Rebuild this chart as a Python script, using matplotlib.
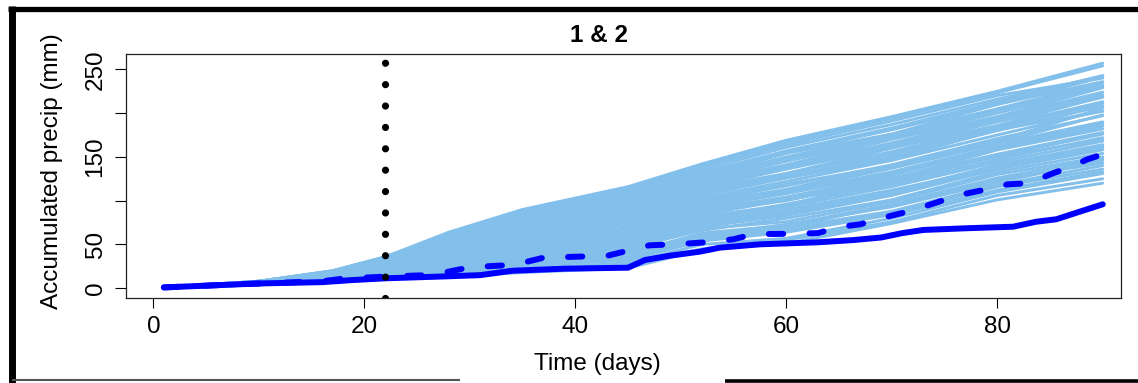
import matplotlib
matplotlib.use("Agg")
import matplotlib.pyplot as plt
from matplotlib.lines import Line2D

plt.rcParams['font.family'] = ['Liberation Sans', 'DejaVu Sans']

# ensemble members (accumulated precip, mm) read at these days
ens_days = [1, 10, 17, 22, 28, 35, 45, 52, 60, 70, 80, 90]
ens_values = [
    [0, 4, 7, 10, 13, 18, 23, 44, 51, 74, 101, 120],
    [0, 4, 7, 11, 15, 20, 26, 45, 55, 76, 106, 125],
    [0, 4, 8, 12, 16, 22, 29, 50, 57, 80, 110, 131],
    [0, 4, 8, 13, 18, 25, 32, 54, 64, 84, 112, 133],
    [0, 4, 8, 13, 19, 27, 34, 56, 66, 86, 116, 136],
    [0, 5, 9, 14, 21, 30, 36, 58, 69, 88, 118, 140],
    [0, 5, 9, 14, 21, 29, 39, 61, 70, 95, 124, 143],
    [0, 5, 9, 15, 22, 30, 42, 60, 73, 93, 121, 146],
    [0, 5, 9, 15, 23, 32, 40, 63, 72, 96, 126, 148],
    [0, 5, 10, 16, 24, 34, 44, 68, 76, 99, 130, 150],
    [0, 5, 10, 17, 25, 36, 46, 66, 80, 101, 133, 154],
    [0, 5, 10, 17, 27, 37, 47, 70, 83, 106, 136, 158],
    [0, 5, 11, 18, 26, 39, 50, 72, 85, 108, 138, 160],
    [0, 5, 11, 19, 29, 41, 55, 75, 90, 112, 138, 162],
    [0, 5, 11, 18, 28, 40, 52, 74, 87, 110, 141, 164],
    [0, 5, 12, 19, 30, 44, 56, 78, 93, 116, 144, 168],
    [0, 6, 12, 20, 32, 45, 58, 82, 95, 124, 150, 170],
    [0, 6, 12, 20, 31, 43, 57, 80, 96, 119, 147, 172],
    [0, 6, 12, 21, 33, 47, 61, 84, 101, 121, 151, 176],
    [0, 6, 13, 22, 34, 49, 63, 88, 100, 126, 153, 178],
    [0, 6, 13, 21, 35, 50, 64, 86, 104, 125, 158, 182],
    [0, 6, 13, 22, 36, 52, 67, 90, 104, 129, 160, 185],
    [1, 6, 14, 23, 37, 53, 69, 92, 108, 131, 159, 187],
    [1, 6, 14, 23, 38, 54, 70, 93, 110, 133, 162, 189],
    [1, 6, 14, 24, 39, 55, 71, 96, 112, 137, 165, 190],
    [1, 6, 14, 24, 40, 57, 74, 97, 113, 140, 166, 198],
    [1, 6, 14, 25, 40, 58, 75, 99, 117, 141, 171, 197],
    [1, 6, 15, 25, 41, 60, 77, 101, 119, 140, 168, 206],
    [1, 6, 15, 26, 42, 61, 79, 103, 122, 146, 175, 203],
    [1, 6, 15, 26, 43, 63, 80, 106, 126, 147, 181, 202],
    [1, 7, 15, 27, 44, 64, 83, 107, 126, 150, 180, 208],
    [1, 7, 16, 27, 45, 66, 84, 109, 128, 153, 183, 211],
    [1, 7, 16, 28, 46, 67, 86, 111, 131, 156, 185, 213],
    [1, 7, 16, 28, 47, 68, 88, 114, 131, 160, 186, 219],
    [1, 7, 16, 29, 48, 70, 90, 115, 136, 161, 190, 218],
    [1, 7, 17, 29, 49, 71, 92, 117, 138, 163, 193, 221],
    [1, 7, 17, 30, 50, 73, 94, 119, 140, 166, 195, 224],
    [1, 7, 17, 30, 51, 74, 96, 121, 141, 170, 196, 229],
    [1, 7, 17, 31, 52, 76, 97, 122, 145, 171, 200, 230],
    [1, 7, 18, 31, 53, 77, 99, 124, 148, 173, 203, 232],
    [1, 7, 18, 32, 54, 79, 101, 126, 150, 176, 205, 235],
    [1, 7, 18, 32, 55, 80, 104, 127, 154, 176, 210, 236],
    [1, 8, 18, 33, 56, 81, 105, 130, 155, 181, 210, 241],
    [1, 8, 19, 33, 57, 83, 107, 132, 157, 183, 213, 243],
    [1, 8, 19, 34, 59, 85, 110, 135, 161, 187, 216, 242],
    [1, 8, 20, 35, 60, 87, 112, 138, 164, 191, 220, 240],
    [1, 8, 20, 36, 61, 89, 114, 140, 167, 194, 223, 254],
    [1, 8, 20, 36, 64, 90, 116, 142, 169, 196, 225, 257],
]

# observed (solid) line
obs_days = [1, 5, 10, 16, 19, 22, 27, 31, 34, 39, 45, 46.6, 49, 51.8, 53.7,
            57.5, 63, 66.3, 69, 71, 73, 77, 81.5, 83.7, 85.6, 87.8, 90]
obs_values = [1, 3, 5.5, 7, 9.5, 11.4, 13.3, 15, 20, 22.4, 23.5, 32.3, 37.3,
              41.8, 46.4, 50.2, 52.5, 55, 58, 63, 66.6, 68.5, 70.3, 76, 78.8,
              87.4, 95.9]

# dashed line
dash_days = [1, 10, 16, 18, 22, 26, 28, 30, 33, 35, 37, 43, 45, 47, 50, 53,
             55, 57, 59, 63, 65, 67, 69, 71, 73, 75, 77, 79, 81, 83, 85, 87,
             88.5, 90]
dash_values = [1, 5.5, 8, 11, 13.3, 15, 19, 24, 26, 29, 35, 37, 43, 49, 50.6,
               53, 56, 62, 62, 63, 70, 73, 80, 86, 93, 101, 108, 113, 118.7,
               120, 130, 139, 147, 153]

cut_day = 22
x_ticks = [0, 20, 40, 60, 80]
y_ticks = [0, 50, 100, 150, 200, 250]
y_ticklabels = ['0', '50', '', '150', '', '250']

W, H = 1138, 383
fig = plt.figure(figsize=(W / 100, H / 100), dpi=100)
ax = fig.add_axes([126 / W, 85 / H, 994.7 / W, 244 / H])

for row in ens_values:
    ax.plot(ens_days, row, color='#82bfea', lw=2.1, solid_capstyle='round',
            solid_joinstyle='round')

ax.plot(obs_days, obs_values, color='#0000ff', lw=4.3,
        solid_capstyle='round', solid_joinstyle='round')
ax.plot(dash_days, dash_values, color='#0000ff', lw=4.3,
        linestyle=(0, (2.4, 4.4)), dash_capstyle='round')

ylim = (-11.1, 267.5)
ax.plot([cut_day, cut_day], [ylim[0], ylim[1]], color='black', lw=5.2,
        linestyle=(0, (0.001, 2.96)), dash_capstyle='round')

ax.set_xlim(-2.59, 91.7)
ax.set_ylim(*ylim)
ax.set_xticks(x_ticks)
ax.set_yticks(y_ticks)
ax.set_yticklabels(y_ticklabels, rotation=90, va='center')
ax.tick_params(axis='x', length=7.2, width=0.8, pad=6, labelsize=17.5)
ax.tick_params(axis='y', length=8, width=0.8, pad=6, labelsize=17.5)
for s in ax.spines.values():
    s.set_linewidth(0.9)
    s.set_color('#222222')

fig.text(599 / W, 1 - 35 / H, '1 & 2', ha='center', va='center',
         fontsize=17.5, fontweight='bold')
fig.text(52 / W, 1 - 171 / H, 'Accumulated precip (mm)', ha='center',
         va='center', rotation=90, fontsize=17.5)
fig.text(597 / W, 1 - 364 / H, 'Time (days)', ha='center', va='center',
         fontsize=17.5)

# frame around the panel
def px_line(x0, y0, x1, y1, lw, color):
    fig.add_artist(Line2D([x0 / W, x1 / W], [1 - y0 / H, 1 - y1 / H],
                          transform=fig.transFigure, lw=lw, color=color,
                          solid_capstyle='butt'))

px_line(11.5, 6, 11.5, 383, 5.0, 'black')
px_line(8, 9, 1138, 9, 3.8, 'black')
px_line(12, 380, 460, 380, 1.5, '#555555')
px_line(725, 380.5, 1138, 380.5, 2.6, 'black')

fig.savefig('out.png', dpi=100)
